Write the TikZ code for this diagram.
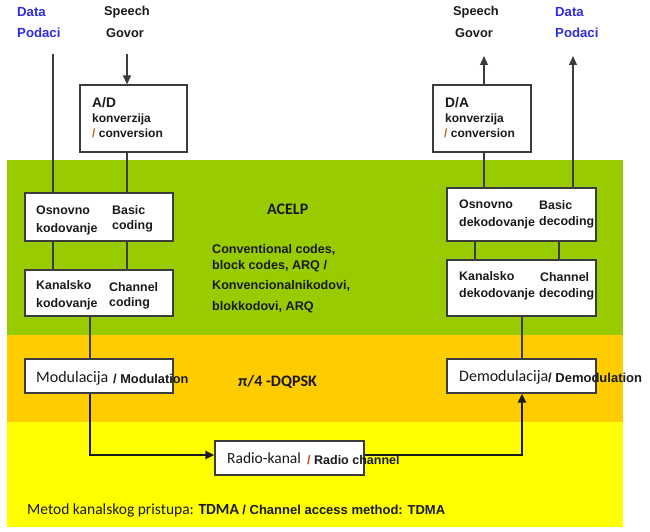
\documentclass[tikz,border=0pt]{standalone}
\usepackage{fontspec}
\setmainfont{Liberation Sans}
\newfontfamily\calfont{Carlito}
\usetikzlibrary{arrows.meta}
\definecolor{bandgreen}{HTML}{99CC00}
\definecolor{bandorange}{HTML}{FFCC00}
\definecolor{bandyellow}{HTML}{FFFF00}
\definecolor{datablue}{RGB}{45,45,225}
\definecolor{ink}{HTML}{1A1A1A}
\definecolor{slashcol}{HTML}{C8661A}
\newcommand{\fs}[1]{\fontsize{#1}{#1}\selectfont}

\begin{document}
\begin{tikzpicture}[x=1pt,y=-1pt,
  box/.style={draw=ink!85,line width=1.2pt,fill=white,inner sep=0pt},
  lbl/.style={anchor=base west,inner sep=0pt,text=ink,font=\bfseries\fs{12.4}},
  link/.style={draw=ink!85,line width=1.2pt},
  flow/.style={draw=ink,line width=2pt},
  tip/.style={-{Triangle[length=9pt,width=8pt]}}]
\useasboundingbox (0,0) rectangle (650,532);

% bands
\fill[bandgreen] (7,160) rectangle (623,335);
\fill[bandorange] (7,335) rectangle (623,422);
\fill[bandyellow] (7,422) rectangle (623,527);

% free ends and line positions
\coordinate (dataIn) at (53,54);
\coordinate (speechIn) at (127,54);
\coordinate (speechOut) at (484,56);
\coordinate (dataOut) at (573,56);
\coordinate (modX) at (90,0);
\coordinate (demX) at (522,0);
\coordinate (decA) at (475,0);
\coordinate (decB) at (559,0);

% boxes
\node[box,minimum width=107pt,minimum height=67pt] (ad) at (133.5,118.5) {};
\node[box,minimum width=148pt,minimum height=48pt] (osn) at (99,217) {};
\node[box,minimum width=148pt,minimum height=46pt] (kan) at (99,293) {};
\node[box,minimum width=148pt,minimum height=34pt] (mod) at (99,376) {};
\node[box,minimum width=149pt,minimum height=34pt] (radio) at (289.5,458) {};
\node[box,minimum width=149pt,minimum height=34pt] (demod) at (521.5,376) {};
\node[box,minimum width=149pt,minimum height=56pt] (kdek) at (521.5,288) {};
\node[box,minimum width=149pt,minimum height=53pt] (odek) at (521.5,214.5) {};
\node[box,minimum width=98pt,minimum height=67pt] (da) at (482,118.5) {};

% transmitter side
\draw[link] (dataIn) -- (dataIn |- osn.north);
\draw[link] (osn.south -| dataIn) -- (kan.north -| dataIn);
\draw[link,tip] (speechIn) -- (speechIn |- ad.north);
\draw[link] (ad.south -| speechIn) -- (osn.north -| speechIn);
\draw[link] (osn.south -| speechIn) -- (kan.north -| speechIn);
\draw[link] (kan.south -| modX) -- (mod.north -| modX);
\draw[flow,tip] (mod.south -| modX) |- ([yshift=3pt]radio.west);

% receiver side
\draw[flow,tip] ([yshift=3pt]radio.east) -| (demod.south -| demX);
\draw[link] (demod.north -| demX) -- (kdek.south -| demX);
\draw[link] (kdek.north -| decA) -- (odek.south -| decA);
\draw[link] (kdek.north -| decB) -- (odek.south -| decB);
\draw[link] (odek.north -| speechOut) -- (da.south -| speechOut);
\draw[link,tip] (da.north -| speechOut) -- (speechOut);
\draw[link,tip] (odek.north -| dataOut) -- (dataOut);

% inputs / outputs
\node[lbl,text=datablue,font=\bfseries\fs{13.2}] (dataL) at (17,17) {Data};
\node[lbl,text=datablue,font=\bfseries\fs{13.2}] (podL) at (17,38) {Podaci};
\node[lbl,font=\bfseries\fs{12.8}] (speechL) at (104,16) {Speech};
\node[lbl,font=\bfseries\fs{12.8}] (govL) at (106,38) {Govor};
\node[lbl,font=\bfseries\fs{12.8}] (speechR) at (453,16) {Speech};
\node[lbl,font=\bfseries\fs{12.8}] (govR) at (455,38) {Govor};
\node[lbl,text=datablue,font=\bfseries\fs{13.2}] (dataR) at (555,17) {Data};
\node[lbl,text=datablue,font=\bfseries\fs{13.2}] (podR) at (555,38) {Podaci};

% box texts
\node[lbl,font=\bfseries\fs{13.8}] (adA) at (92,107) {A/D};
\node[lbl,font=\bfseries\fs{12}] (adB) at (92,123) {konverzija};
\node[lbl,font=\bfseries\fs{12}] (adC) at (92,137) {{\color{slashcol}/} conversion};
\node[lbl,font=\bfseries\fs{13.8}] (daA) at (445,107) {D/A};
\node[lbl,font=\bfseries\fs{12}] (daB) at (445,123) {konverzija};
\node[lbl,font=\bfseries\fs{12}] (daC) at (444,137) {{\color{slashcol}/} conversion};

\node[lbl] (osnA) at (36,214) {Osnovno};
\node[lbl] (osnB) at (36,232) {kodovanje};
\node[lbl] (osnC) at (112,214) {Basic};
\node[lbl] (osnD) at (112,229) {coding};
\node[lbl] (kanA) at (36,289) {Kanalsko};
\node[lbl] (kanB) at (36,307) {kodovanje};
\node[lbl] (kanC) at (109,291) {Channel};
\node[lbl] (kanD) at (109,306) {coding};

\node[lbl] (odekA) at (459,208) {Osnovno};
\node[lbl] (odekB) at (459,226) {dekodovanje};
\node[lbl] (odekC) at (539,209) {Basic};
\node[lbl] (odekD) at (539,225) {decoding};
\node[lbl] (kdekA) at (459,280) {Kanalsko};
\node[lbl] (kdekB) at (459,297) {dekodovanje};
\node[lbl] (kdekC) at (540,281) {Channel};
\node[lbl] (kdekD) at (539,297) {decoding};

\node[lbl,font=\calfont\fs{16}] (modA) at (36,382) {Modulacija};
\node[lbl,font=\bfseries\fs{12.8}] (modB) at (113,383) {/ Modulation};
\node[lbl,font=\calfont\fs{16}] (demodA) at (459,381) {Demodulacija};
\node[lbl,font=\bfseries\fs{13}] (demodB) at (548,382) {/ Demodulation};
\node[lbl,font=\calfont\fs{15.5}] (radioA) at (227,463) {Radio-kanal};
\node[lbl,font=\bfseries\fs{12.5}] (radioB) at (307,464) {{\color{slashcol!70!red}/} Radio channel};

% layer notes
\node[lbl,font=\calfont\bfseries\fs{16}] (acelp) at (267,214) {ACELP};
\node[lbl,font=\bfseries\fs{12.6}] (codesA) at (212,253) {Conventional codes,};
\node[lbl,font=\bfseries\fs{12.6}] (codesB) at (212,269) {block codes, ARQ /};
\node[lbl,font=\bfseries\fs{12.6}] (codesC) at (212,289) {Konvencionalnikodovi,};
\node[lbl,font=\bfseries\fs{12.6}] (codesD) at (212,310) {blokkodovi, ARQ};
\node[lbl,font=\calfont\bfseries\fs{16}] (dqpsk) at (238,386) {π/4 -DQPSK};
\node[lbl,font=\calfont\fs{15.5}] (access) at (27,514)
  {Metod kanalskog pristupa: {\bfseries TDMA} {\fontspec{Liberation Sans}\bfseries\fs{13}/ Channel access method: TDMA}};
\end{tikzpicture}
\end{document}
